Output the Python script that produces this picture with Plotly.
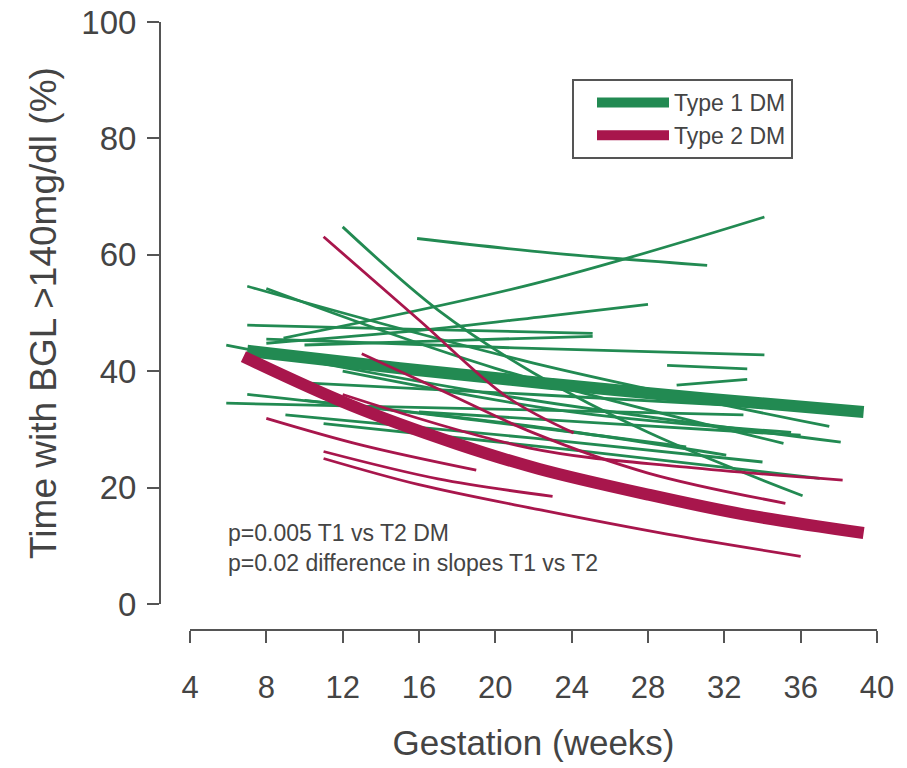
import plotly.graph_objects as go

# ---------------- data ----------------
x_ticks = [4, 8, 12, 16, 20, 24, 28, 32, 36, 40]
y_ticks = [0, 20, 40, 60, 80, 100]

# individual Type 1 DM trajectories (gestation weeks / % time BGL>140)
t1_weeks = [
    [15.9, 23, 31.1],
    [8.9, 22, 34.1],
    [12, 17, 22, 28, 36.1],
    [7, 22, 37.5],
    [8, 20, 35.1],
    [7, 16, 25.1],
    [10, 18, 25.1],
    [8, 16, 22.3, 28],
    [8, 21, 34.1],
    [29, 33.2],
    [29.5, 33.2],
    [5.9, 20, 38.1],
    [5.9, 20, 33],
    [10, 22, 32.1],
    [9, 22, 34],
    [11, 24, 37],
    [12, 24, 35.5],
    [10, 22, 36],
    [16, 26, 36],
    [7, 18, 30],
]
t1_values = [
    [62.8, 60.3, 58.2],
    [45.7, 55.0, 66.5],
    [64.8, 50.5, 39.7, 29.5, 18.6],
    [54.6, 41.4, 30.5],
    [54.2, 40.5, 27.6],
    [47.9, 47.2, 46.5],
    [44.5, 45.3, 46.0],
    [44.8, 47.0, 49.3, 51.5],
    [45.5, 44.0, 42.8],
    [41.0, 40.4],
    [37.6, 38.6],
    [44.5, 36.0, 27.8],
    [34.5, 33.5, 32.5],
    [35.0, 30.5, 25.6],
    [32.5, 28.5, 24.4],
    [31.0, 26.5, 21.6],
    [40.0, 33.0, 29.5],
    [38.0, 36.0, 33.5],
    [33.0, 31.0, 29.0],
    [36.0, 32.0, 27.0],
]

# individual Type 2 DM trajectories
t2_weeks = [
    [11, 16, 20.6, 24.1],
    [8, 13, 19],
    [11, 16, 22.3, 29, 36],
    [12, 21.8, 30, 38.2],
    [13, 17.1, 22, 28, 35.2],
    [11, 17, 23],
]
t2_values = [
    [63.1, 48.8, 35.6, 29.4],
    [31.9, 27.3, 23.0],
    [25.0, 20.5, 16.2, 12.0, 8.2],
    [36.0, 26.8, 23.5, 21.3],
    [43.0, 36.8, 29.4, 22.5, 17.3],
    [26.2, 21.5, 18.5],
]

# group mean curves
t1_mean_weeks = [7, 15, 23, 31, 39.3]
t1_mean_values = [43.5, 40.5, 37.8, 35.3, 33.0]
t2_mean_weeks = [6.8, 12.4, 18, 22.3, 28, 33, 39.3]
t2_mean_values = [42.5, 34.2, 27.5, 23.2, 18.8, 15.4, 12.2]

series_names = ["Type 1 DM", "Type 2 DM"]
p_text = ["p=0.005 T1 vs T2 DM", "p=0.02 difference in slopes T1 vs T2"]

# ---------------- styling ----------------
GREEN = "#228a52"
RED = "#a8164c"
AXIS = "#555555"
TEXT = "#444444"
FONT = "Liberation Sans, Arial, sans-serif"

fig = go.Figure()

for wk, val in zip(t1_weeks, t1_values):
    fig.add_trace(go.Scatter(x=wk, y=val, mode="lines", showlegend=False,
                             line=dict(color=GREEN, width=2.8, shape="spline"),
                             hoverinfo="skip"))

fig.add_trace(go.Scatter(x=t1_mean_weeks, y=t1_mean_values, mode="lines",
                         name=series_names[0],
                         line=dict(color=GREEN, width=12, shape="spline")))

for wk, val in zip(t2_weeks, t2_values):
    fig.add_trace(go.Scatter(x=wk, y=val, mode="lines", showlegend=False,
                             line=dict(color=RED, width=2.8, shape="spline"),
                             hoverinfo="skip"))

fig.add_trace(go.Scatter(x=t2_mean_weeks, y=t2_mean_values, mode="lines",
                         name=series_names[1],
                         line=dict(color=RED, width=12, shape="spline")))

W, H = 907, 768
ML, MR, MT, MB = 150, 20, 15, 130
PW, PH = W - ML - MR, H - MT - MB


def px_x(p):
    return (p - ML) / PW


def px_y(p):
    return (H - MB - p) / PH


fig.update_layout(
    width=W, height=H,
    margin=dict(l=ML, r=MR, t=MT, b=MB, autoexpand=False),
    paper_bgcolor="white", plot_bgcolor="white",
    font=dict(family=FONT, color=TEXT),
    xaxis=dict(
        domain=[px_x(190), px_x(877)], range=[4, 40], automargin=False,
        tickvals=x_ticks, ticktext=[str(v) for v in x_ticks],
        anchor="free", position=px_y(630),
        showline=True, linecolor=AXIS, linewidth=2,
        ticks="outside", ticklen=12, tickwidth=2, tickcolor=AXIS,
        showgrid=False, zeroline=False,
        tickfont=dict(size=31, color=TEXT), ticklabelstandoff=18,
        title=dict(text="Gestation (weeks)", font=dict(size=35, color=TEXT), standoff=25),
    ),
    yaxis=dict(
        domain=[px_y(604), px_y(22)], range=[0, 100], automargin=False,
        tickvals=y_ticks, ticktext=[str(v) for v in y_ticks],
        anchor="free", position=px_x(160),
        showline=True, linecolor=AXIS, linewidth=2,
        ticks="outside", ticklen=12, tickwidth=2, tickcolor=AXIS,
        showgrid=False, zeroline=False,
        tickfont=dict(size=33, color=TEXT), ticklabelstandoff=4,
        title=dict(text="Time with BGL >140mg/dl (%)", font=dict(size=37, color=TEXT), standoff=12),
    ),
    legend=dict(
        x=px_x(572), y=px_y(79), xanchor="left", yanchor="top",
        bordercolor=AXIS, borderwidth=2, bgcolor="white",
        font=dict(size=23, color=TEXT), itemwidth=72, tracegroupgap=0,
        indentation=18,
    ),
    annotations=[dict(
        x=px_x(226), y=px_y(548), xref="paper", yref="paper",
        xanchor="left", yanchor="middle", align="left", showarrow=False,
        text="<br>".join(p_text), font=dict(size=23, color=TEXT),
    )],
)

fig.write_html("out.html")
